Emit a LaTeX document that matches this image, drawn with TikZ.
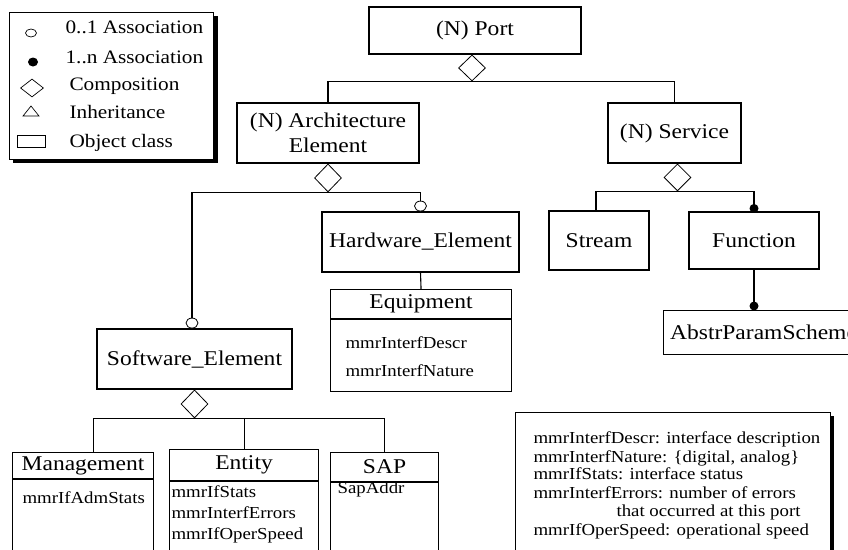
\documentclass[tikz,border=0pt]{standalone}
\usepackage{fontspec}
\setmainfont{Liberation Serif}[FakeStretch=1.12]
\usetikzlibrary{shapes.geometric}
\begin{document}
\begin{tikzpicture}[x=1pt,y=-1pt,line width=1.1pt,
  box/.style={draw, inner sep=0pt, align=center, font=\fontsize{21}{24.5}\selectfont},
  hd/.style={draw, inner sep=0pt, anchor=north west, font=\fontsize{21}{24}\selectfont},
  body/.style={draw, inner sep=0pt, anchor=north west},
  attr/.style={font=\fontsize{16.8}{19.5}\selectfont, inner sep=0pt, anchor=base west},
  notetxt/.style={font=\fontsize{16.8}{19}\selectfont, inner sep=0pt, anchor=base west},
  legtxt/.style={font=\fontsize{19}{21}\selectfont, inner sep=0pt, anchor=base west},
  comp/.style={draw, diamond, minimum width=27pt, minimum height=28pt, inner sep=0pt, fill=white, anchor=north, line width=0.8pt},
  opt/.style={draw, ellipse, minimum width=12pt, minimum height=10pt, inner sep=0pt, fill=white, line width=0.8pt},
  many/.style={fill=black, ellipse, minimum width=9pt, minimum height=9pt, inner sep=0pt},
  ]
\useasboundingbox (0,0) rectangle (848,549);
\clip (0,0) rectangle (848,549);

% ---------- legend ----------
\fill[black] (13,16) rectangle (218,163);
\node[draw, fill=white, minimum width=204pt, minimum height=147pt, inner sep=0pt, anchor=north west] (legend) at (9,12) {};
\node[draw, ellipse, minimum width=11pt, minimum height=8pt, inner sep=0pt, line width=0.7pt] (lopt) at (31,33) {};
\node[fill=black, ellipse, minimum width=10pt, minimum height=9pt, inner sep=0pt] (lmany) at (33,62) {};
\node[draw, diamond, minimum width=23pt, minimum height=18pt, inner sep=0pt, line width=0.7pt] (lcomp) at (32,88) {};
\draw[line width=0.7pt] (23,116) -- (39,116) -- (31,106) -- cycle;
\node[draw, minimum width=28pt, minimum height=12pt, inner sep=0pt, line width=0.8pt] (lobj) at (31,141) {};
\node[legtxt] (t1) at (65,33) {0..1 Association};
\node[legtxt] (t2) at (65,63) {1..n Association};
\node[legtxt] (t3) at (69,90) {Composition};
\node[legtxt] (t4) at (69,118) {Inheritance};
\node[legtxt] (t5) at (69,147) {Object class};

% ---------- main boxes ----------
\node[box, minimum width=212pt, minimum height=47pt] (port) at (475,30.5) {(N) Port};
\node[box, minimum width=182pt, minimum height=60pt] (arch) at (328,133) {(N) Architecture\\Element};
\node[box, minimum width=133pt, minimum height=60pt] (serv) at (674.5,133) {(N) Service};
\node[box, minimum width=197pt, minimum height=60pt] (hw) at (420.5,242) {Hardware\_Element};
\node[box, minimum width=195pt, minimum height=60pt] (sw) at (194.5,359) {Software\_Element};
\node[box, minimum width=100pt, minimum height=59pt] (stream) at (599,240.5) {Stream};
\node[box, minimum width=130pt, minimum height=57pt] (func) at (754,240.5) {Function};
\node[box, minimum width=200pt, minimum height=44pt, anchor=north west] (abs) at (663,310) {AbstrParamScheme};

% Equipment
\node[hd, minimum width=181pt, minimum height=29pt] (equip) at (330,289) {Equipment};
\node[body, minimum width=181pt, minimum height=72pt] (equipb) at (equip.south west) {};
\node[attr] (e1) at (345,348) {mmrInterfDescr};
\node[attr] (e2) at (345,376) {mmrInterfNature};

% Management
\node[hd, minimum width=141pt, minimum height=26pt] (mgmt) at (12,452) {Management};
\node[body, minimum width=141pt, minimum height=90pt] (mgmtb) at (mgmt.south west) {};
\node[attr] (m1) at (22,503) {mmrIfAdmStats};

% Entity
\node[hd, minimum width=149pt, minimum height=31pt] (ent) at (169,449) {Entity};
\node[body, minimum width=149pt, minimum height=90pt] (entb) at (ent.south west) {};
\node[attr] (n1) at (171,497) {mmrIfStats};
\node[attr] (n2) at (171,518) {mmrInterfErrors};
\node[attr] (n3) at (171,539) {mmrIfOperSpeed};

% SAP
\node[hd, minimum width=108pt, minimum height=29pt] (sap) at (330,452) {SAP};
\node[body, minimum width=108pt, minimum height=90pt] (sapb) at (sap.south west) {};
\node[attr] (s1) at (337,493) {SapAddr};

% ---------- note ----------
\fill[black] (519,416) rectangle (834,560);
\node[draw, fill=white, minimum width=315pt, minimum height=150pt, inner sep=0pt, anchor=north west] (note) at (515,412) {};
\node[notetxt] (nt1) at (533,443) {mmrInterfDescr: interface description};
\node[notetxt] (nt2) at (533,462) {mmrInterfNature: \{digital, analog\}};
\node[notetxt] (nt3) at (533,479) {mmrIfStats: interface status};
\node[notetxt] (nt4) at (533,498) {mmrInterfErrors: number of errors};
\node[notetxt] (nt5) at (616,516) {that occurred at this port};
\node[notetxt] (nt6) at (533,535) {mmrIfOperSpeed: operational speed};

% ---------- connectors ----------
% Port composition
\node[comp, minimum height=26pt] (pd) at ([xshift=-3pt]port.south) {};
\draw (arch.north) |- (pd.south) -| (serv.north);

% Architecture composition
\node[comp] (ad) at (arch.south) {};
\node[opt, anchor=south] (swo) at ([xshift=-2.5pt]sw.north) {};
\node[opt, anchor=south] (hwo) at (hw.north) {};
\draw (swo.north) |- (ad.south) -| (hwo.north);

% Hardware -> Equipment
\draw (hw.south) -- (equip.north);

% Service composition
\node[comp, minimum height=27pt] (sd) at ([xshift=3pt]serv.south) {};
\node[many] (fd) at ([yshift=3pt]func.north) {};
\coordinate (stc) at ([xshift=-3pt]stream.north);
\draw (stc) |- (sd.south) -| (fd.center);

% Function -> AbstrParamScheme
\coordinate (abtop) at (func.south |- abs.north);
\node[many] (abd) at ([yshift=4pt]abtop) {};
\draw (func.south) -- (abd.center);

% Software composition
\node[comp] (swd) at (sw.south) {};
\coordinate (mgc) at ([xshift=10.5pt]mgmt.north);
\draw (mgc) |- (swd.south) -| (sap.north);
\draw (ent.north) -- (ent.north |- swd.south);
\end{tikzpicture}
\end{document}
